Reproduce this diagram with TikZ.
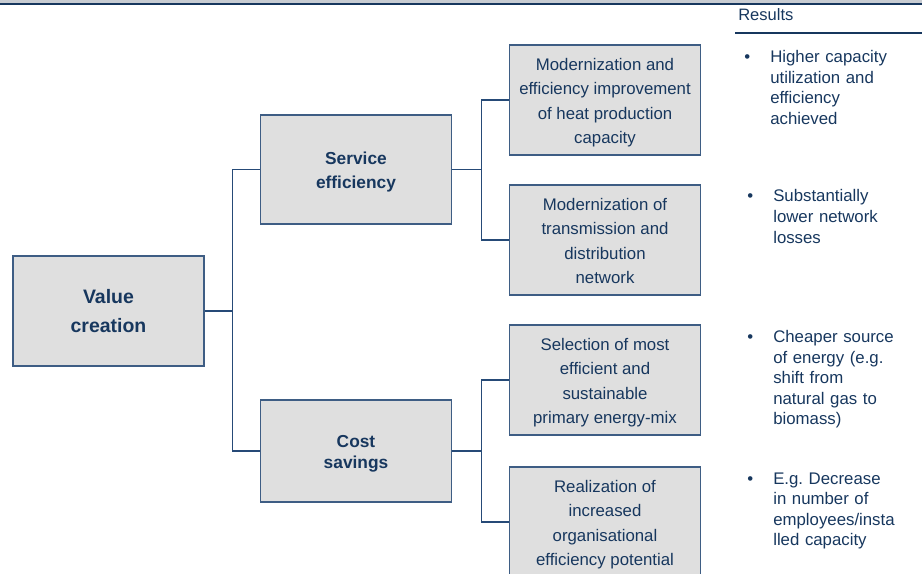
\documentclass[tikz,border=0pt]{standalone}
\usepackage{fontspec}
\setmainfont{Liberation Sans}
\usepackage{tikz}
\usetikzlibrary{positioning}

\definecolor{navy}{HTML}{17375E}
\definecolor{boxline}{HTML}{3E5D84}
\definecolor{connline}{HTML}{264A77}
\definecolor{boxfill}{HTML}{DFDFDF}
\definecolor{topgray}{HTML}{C8CCD2}

% fixed line height for the first line of a box
\newcommand{\boxstrut}{\rule{0pt}{13.5pt}}

\begin{document}
\begin{tikzpicture}[
  x=0.75pt, y=-0.75pt,
  box/.style={
    rectangle, draw=boxline, fill=boxfill, line width=1.1pt,
    minimum width=143.25pt, minimum height=82.5pt, inner sep=0pt,
    align=center, text=navy,
    font=\fontsize{12.6}{18.4}\selectfont,
    execute at end node={\rule[-3pt]{0pt}{3pt}}
  },
  head/.style={box, font=\bfseries\fontsize{13}{18}\selectfont},
  conn/.style={draw=connline, line width=1.1pt},
  res/.style={
    anchor=base west, inner sep=0pt, text width=115pt, align=left,
    text=navy, font=\fontsize{12.6}{15.4}\selectfont
  }
]
\useasboundingbox (0,0) rectangle (922,574);

% top rule
\fill[topgray] (0,0) rectangle (922,3);
\draw[navy, line width=1.5pt] (0,4) -- (922,4);

% tree
\node[box, font=\bfseries\fontsize{14.6}{21}\selectfont] (value) at (108.5,311) {\boxstrut Value\\creation};
\node[head, minimum height=81.75pt] (service) at (356,169.5) {\boxstrut Service\\efficiency};
\node[head, minimum height=76.5pt, font=\bfseries\fontsize{13}{15.75}\selectfont] (cost) at (356,451) {\boxstrut Cost\\savings};

\node[box] (heat) at (605,100) {\boxstrut Modernization and\\efficiency improvement\\of heat production\\capacity};
\node[box] (network) at (605,240) {\boxstrut Modernization of\\transmission and\\distribution\\network};
\node[box] (mix) at (605,380) {\boxstrut Selection of most\\efficient and\\sustainable\\primary energy-mix};
\node[box] (orga) at (605,522) {\boxstrut Realization of\\increased\\organisational\\efficiency potential};

\path (value.east) ++(28,0) coordinate (jleft);
\path (service.east) ++(29,0) coordinate (jservice);
\path (cost.east) ++(29,0) coordinate (jcost);

\draw[conn] (value.east) -- (jleft);
\draw[conn] (jleft) |- (service.west);
\draw[conn] (jleft) |- (cost.west);
\draw[conn] (service.east) -- (jservice);
\draw[conn] (jservice) |- (heat.west);
\draw[conn] (jservice) |- (network.west);
\draw[conn] (cost.east) -- (jcost);
\draw[conn] (jcost) |- (mix.west);
\draw[conn] (jcost) |- (orga.west);

% results column
\node[anchor=base west, inner sep=0pt, text=navy, font=\fontsize{12.4}{15}\selectfont] (results) at (738,21) {Results};
\draw[navy, line width=1.5pt] (735,33) -- (922,33);

\node[res] (res1) at (770,62.5) {\llap{\textbullet\hspace{15pt}}Higher capacity\\utilization and\\efficiency\\achieved};
\node[res] (res2) at (773,202) {\llap{\textbullet\hspace{15pt}}Substantially\\lower network\\losses};
\node[res] (res3) at (773,342.5) {\llap{\textbullet\hspace{15pt}}Cheaper source\\of energy (e.g.\\shift from\\natural gas to\\biomass)};
\node[res] (res4) at (773,484.3) {\llap{\textbullet\hspace{15pt}}E.g.\ Decrease\\in number of\\employees/insta\\lled capacity};
\end{tikzpicture}
\end{document}
